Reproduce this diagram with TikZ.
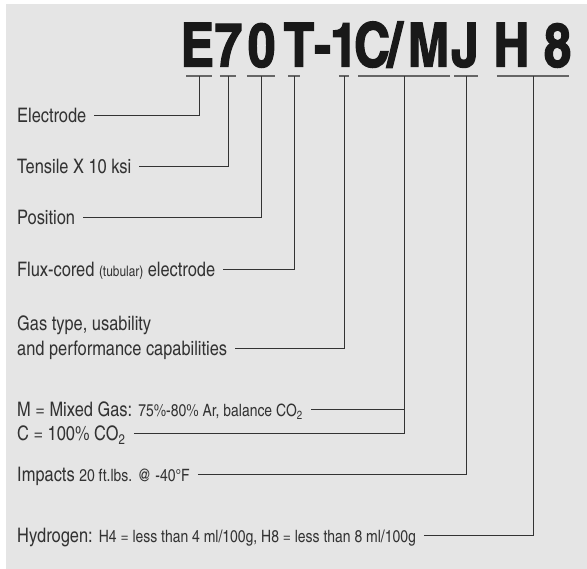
\documentclass[tikz,border=0pt]{standalone}
\usepackage{fontspec}
\setmainfont{texgyreheroscn}[Extension=.otf, UprightFont=*-regular, BoldFont=*-bold]
\newfontfamily\codefont{texgyreheroscn}[Extension=.otf, UprightFont=*-bold, FakeBold=2]
\usetikzlibrary{positioning}

\newcommand{\smtxt}[2][17]{{\fontsize{#1}{#1}\selectfont #2}}

\begin{document}
\begin{tikzpicture}[
    x=1pt, y=-1pt,
    desc/.style={anchor=west, inner xsep=8pt, inner ysep=0pt, text height=14pt, text depth=0pt, font=\fontsize{20}{24}\selectfont, text=black!80},
    code/.style={anchor=base, inner sep=0pt, font=\fontsize{61}{61}\selectfont\codefont, text=black!90},
    ubar/.style={inner sep=0pt, minimum height=0pt},
    uline/.style={draw=black!60, line width=1.6pt},
    lead/.style={draw=black!80, line width=1pt}
]
\useasboundingbox (0,0) rectangle (587,569);
\fill[black!10] (6,4) rectangle (587,569);

% the classification code
\node[code] (cE) at (197.5,66.5) {E};
\node[code] (c7) at (228.5,66.5) {7};
\node[code] (c0) at (261.5,66.5) {0};
\node[code] (cT) at (299,66.5) {T};
\node[code] (cDash) at (322.5,66.5) {-};
\node[code] (c1) at (344,66.5) {1};
\node[code] (cC) at (372,66.5) {C};
\node[code] (cSlash) at (395,66.5) {/};
\node[code] (cM) at (428.5,66.5) {M};
\node[code] (cJ) at (465,66.5) {J};
\node[code] (cH) at (511.5,66.5) {H};
\node[code] (c8) at (557.5,66.5) {8};

% underlines below each group
\node[ubar, minimum width=25pt] (uE) at (199,76) {};
\node[ubar, minimum width=16pt] (u7) at (228,76) {};
\node[ubar, minimum width=28pt] (u0) at (261,76) {};
\node[ubar, minimum width=11pt] (uT) at (294,76) {};
\node[ubar, minimum width=10pt] (u1) at (344,76) {};
\node[ubar, minimum width=91pt] (uCM) at (404,76) {};
\node[ubar, minimum width=23pt] (uJ) at (466,76) {};
\node[ubar, minimum width=72pt] (uH8) at (533,76) {};
\foreach \u in {uE,u7,u0,uT,u1,uCM,uJ,uH8}
    \draw[uline] (\u.west) -- (\u.east);

% descriptions
\node[desc] (lElec) at (9,116) {Electrode};
\node[desc] (lTens) at (9,167) {Tensile X 10 ksi};
\node[desc] (lPos) at (9,218) {Position};
\node[desc] (lFlux) at (9,270) {Flux-cored \smtxt[14.5]{(tubular)} electrode};
\node[desc] (lGas) at (9,349) {and performance capabilities};
\node[desc, above=11pt of lGas.north west, anchor=south west] (lGasTop) {Gas type, usability};
\node[desc] (lMix) at (9,410) {M = Mixed Gas: \smtxt{75\%-80\% Ar, balance CO\textsubscript{2}}};
\node[desc] (lCO) at (9,434) {C = 100\% CO\textsubscript{2}};
\node[desc] (lImp) at (9,474.5) {Impacts \smtxt{20 ft.lbs. @ -40°F}};
\node[desc] (lHyd) at (9,535) {Hydrogen: \smtxt{H4 = less than 4 ml/100g, H8 = less than 8 ml/100g}};

% leader lines
\draw[lead] (lElec.east) -| (uE.south);
\draw[lead] (lTens.east) -| (u7.south);
\draw[lead] (lPos.east) -| (u0.south);
\draw[lead] (lFlux.east) -| (uT.south);
\draw[lead] (lGas.east) -| (u1.south);
\draw[lead] (lMix.east) -| (uCM.south);
\draw[lead] (lCO.east) -| (uCM.south);
\draw[lead] (lImp.east) -| (uJ.south);
\draw[lead] (lHyd.east) -| (uH8.south);
\end{tikzpicture}
\end{document}
